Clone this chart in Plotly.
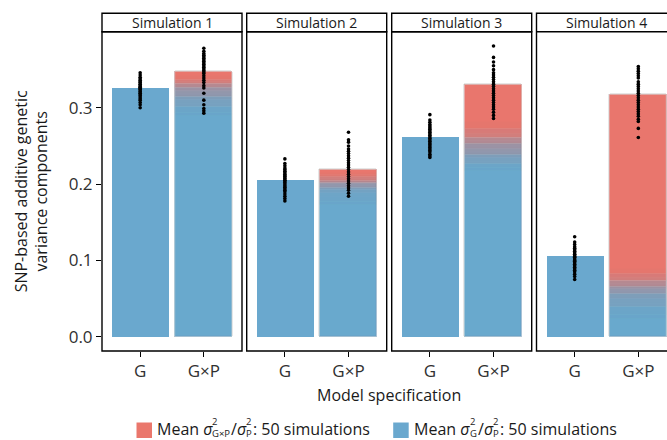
import plotly.graph_objects as go

W, H = 667, 440

# ---------------- data ----------------
panels = ["Simulation 1", "Simulation 2", "Simulation 3", "Simulation 4"]
categories = ["G", "G×P"]
y_ticks = [0.0, 0.1, 0.2, 0.3]
y_ticklabels = ["0.0", "0.1", "0.2", "0.3"]

# mean SNP-based G variance component, G model
g_mean = [0.326, 0.206, 0.262, 0.106]
# mean total (G + G×P) for the G×P model
gxp_total = [0.347, 0.2185, 0.330, 0.317]

# per-simulation G share (top of blue part) in the G×P model
gxp_gpart_1 = [0.327, 0.313, 0.339, 0.298, 0.330, 0.321, 0.308, 0.336, 0.317, 0.290,
               0.333, 0.325, 0.305, 0.341, 0.319, 0.328, 0.294, 0.334, 0.311, 0.323,
               0.302, 0.337, 0.315, 0.326, 0.331]
gxp_gpart_2 = [0.206, 0.191, 0.213, 0.180, 0.209, 0.200, 0.186, 0.211, 0.197, 0.173,
               0.208, 0.204, 0.183, 0.214, 0.198, 0.207, 0.177, 0.212, 0.189, 0.201,
               0.193, 0.210, 0.195, 0.205, 0.202]
gxp_gpart_3 = [0.255, 0.237, 0.276, 0.224, 0.259, 0.245, 0.233, 0.269, 0.241, 0.218,
               0.263, 0.250, 0.230, 0.280, 0.243, 0.257, 0.221, 0.266, 0.235, 0.247,
               0.227, 0.272, 0.239, 0.253, 0.261]
gxp_gpart_4 = [0.067, 0.053, 0.085, 0.034, 0.071, 0.062, 0.047, 0.079, 0.058, 0.024,
               0.075, 0.064, 0.043, 0.088, 0.060, 0.069, 0.029, 0.077, 0.050, 0.063,
               0.039, 0.082, 0.056, 0.066, 0.073]

# per-simulation estimates (points)
dots_g_1 = [0.346, 0.343, 0.340, 0.338, 0.336, 0.334, 0.333, 0.331, 0.330, 0.328, 0.327,
            0.326, 0.325, 0.324, 0.322, 0.321, 0.319, 0.318, 0.316, 0.314, 0.312, 0.310,
            0.307, 0.304, 0.300]
dots_gxp_1 = [0.378, 0.374, 0.371, 0.369, 0.367, 0.365, 0.363, 0.361, 0.359, 0.357, 0.355,
              0.353, 0.351, 0.349, 0.347, 0.345, 0.342, 0.339, 0.336, 0.333, 0.329, 0.326,
              0.319, 0.310, 0.304, 0.299, 0.296, 0.293]
dots_g_2 = [0.233, 0.227, 0.224, 0.221, 0.219, 0.217, 0.215, 0.213, 0.211, 0.210, 0.208,
            0.207, 0.205, 0.204, 0.202, 0.200, 0.198, 0.196, 0.194, 0.192, 0.190, 0.187,
            0.184, 0.181, 0.178]
dots_gxp_2 = [0.268, 0.258, 0.255, 0.250, 0.246, 0.243, 0.240, 0.237, 0.234, 0.231, 0.228,
              0.225, 0.222, 0.219, 0.216, 0.213, 0.210, 0.207, 0.204, 0.201, 0.198, 0.195,
              0.192, 0.188, 0.184]
dots_g_3 = [0.291, 0.284, 0.281, 0.278, 0.276, 0.274, 0.272, 0.270, 0.268, 0.266, 0.264,
            0.262, 0.260, 0.258, 0.256, 0.254, 0.252, 0.250, 0.248, 0.246, 0.244, 0.242,
            0.239, 0.237, 0.235]
dots_gxp_3 = [0.381, 0.366, 0.360, 0.355, 0.350, 0.346, 0.343, 0.340, 0.337, 0.334, 0.331,
              0.328, 0.325, 0.322, 0.319, 0.316, 0.313, 0.310, 0.307, 0.304, 0.301, 0.298,
              0.294, 0.290, 0.286]
dots_g_4 = [0.131, 0.124, 0.121, 0.118, 0.116, 0.114, 0.112, 0.110, 0.108, 0.107, 0.105,
            0.104, 0.102, 0.100, 0.099, 0.097, 0.095, 0.093, 0.091, 0.089, 0.087, 0.085,
            0.082, 0.079, 0.075]
dots_gxp_4 = [0.354, 0.351, 0.348, 0.345, 0.342, 0.339, 0.334, 0.331, 0.328, 0.325, 0.322,
              0.319, 0.316, 0.313, 0.310, 0.307, 0.304, 0.301, 0.298, 0.295, 0.292, 0.289,
              0.285, 0.282, 0.273, 0.261]

gxp_gparts = [gxp_gpart_1, gxp_gpart_2, gxp_gpart_3, gxp_gpart_4]
dots_g = [dots_g_1, dots_g_2, dots_g_3, dots_g_4]
dots_gxp = [dots_gxp_1, dots_gxp_2, dots_gxp_3, dots_gxp_4]

# legend: subscript of first sigma for each series
legend_subs = ["G×P", "G"]
legend_tail = ": 50 simulations"

# ---------------- styling ----------------
FONT = "Open Sans, sans-serif"
BLUE = "#6AA8CE"
RED = "#EA776C"
BLUE_A = "rgba(106,168,206,0.22)"
RED_A = "rgba(234,119,108,0.22)"
SEAM = "rgba(225,225,225,0.25)"
TXT = "#303030"
DARK = "#1a1a1a"


def X(px):
    return px / W


def Y(py):
    return 1 - py / H


panel_left = [102.0, 246.7, 391.7, 536.5]
panel_w = 140.0
plot_top, plot_bot = 31.7, 351.0
strip_top = 13.3
y_range = [-0.0187, 0.3997]
unit = panel_w / 2.2  # px per category

fig = go.Figure()

for p in range(4):
    ax = "" if p == 0 else str(p + 1)
    xa, ya = "x" + ax, "y" + ax
    # G model bar
    fig.add_trace(go.Bar(x=[categories[0]], y=[g_mean[p]], width=0.9,
                         marker=dict(color=BLUE, line=dict(width=0)),
                         xaxis=xa, yaxis=ya, hoverinfo="skip", showlegend=False))
    # G×P model: one translucent stacked bar per simulation
    for b in gxp_gparts[p]:
        fig.add_trace(go.Bar(x=[categories[1], categories[1]], y=[b, gxp_total[p] - b],
                             base=[0, b], width=0.9,
                             marker=dict(color=[BLUE_A, RED_A], line=dict(width=0.5, color=SEAM)),
                             xaxis=xa, yaxis=ya, hoverinfo="skip", showlegend=False))
    # points
    fig.add_trace(go.Scatter(x=[categories[0]] * len(dots_g[p]), y=dots_g[p], mode="markers",
                             marker=dict(color="black", size=3.6),
                             xaxis=xa, yaxis=ya, hoverinfo="skip", showlegend=False))
    fig.add_trace(go.Scatter(x=[categories[1]] * len(dots_gxp[p]), y=dots_gxp[p], mode="markers",
                             marker=dict(color="black", size=3.6),
                             xaxis=xa, yaxis=ya, hoverinfo="skip", showlegend=False))

    left = panel_left[p]
    right = min(left + panel_w, W)
    xr = [-0.6, 1.6] if p < 3 else [-0.6, -0.6 + (W - left) / unit]
    fig.update_layout(**{
        "xaxis" + ax: dict(domain=[X(left), X(right)], anchor=ya, type="category",
                           categoryorder="array", categoryarray=categories, range=xr,
                           showgrid=False, zeroline=False, showline=False,
                           ticks="outside", ticklen=5, tickwidth=1.2, tickcolor="black",
                           tickfont=dict(family=FONT, size=17, color=TXT)),
        "yaxis" + ax: dict(domain=[Y(plot_bot), Y(plot_top)], anchor=xa, range=y_range,
                           showgrid=False, zeroline=False, showline=False,
                           tickvals=y_ticks, ticktext=y_ticklabels,
                           showticklabels=(p == 0), ticks="outside" if p == 0 else "",
                           ticklen=5, tickwidth=1.2, tickcolor="black",
                           tickfont=dict(family=FONT, size=17, color=TXT)),
    })

    # panel border + strip
    lw = 1.4
    if p < 3:
        fig.add_shape(type="rect", xref="paper", yref="paper", x0=X(left), x1=X(right),
                      y0=Y(plot_bot), y1=Y(plot_top), line=dict(color="black", width=lw),
                      layer="above")
        fig.add_shape(type="rect", xref="paper", yref="paper", x0=X(left), x1=X(right),
                      y0=Y(plot_top), y1=Y(strip_top), line=dict(color="black", width=lw),
                      fillcolor="white", layer="above")
    else:
        xe = X(left + panel_w)
        path = (f"M {xe},{Y(strip_top)} L {X(left)},{Y(strip_top)} L {X(left)},{Y(plot_bot)} "
                f"L {xe},{Y(plot_bot)} M {X(left)},{Y(plot_top)} L {xe},{Y(plot_top)}")
        fig.add_shape(type="path", xref="paper", yref="paper", path=path,
                      line=dict(color="black", width=lw), layer="above")
    fig.add_annotation(x=X(left + panel_w / 2), y=Y(22.3), xref="paper", yref="paper",
                       text=panels[p], showarrow=False, xanchor="center", yanchor="middle",
                       font=dict(family=FONT, size=14, color=DARK))

# axis titles
fig.add_annotation(x=X(389), y=Y(395), xref="paper", yref="paper", text="Model specification",
                   showarrow=False, xanchor="center", yanchor="middle",
                   font=dict(family=FONT, size=16, color=DARK))
fig.add_annotation(x=X(31), y=Y((plot_top + plot_bot) / 2), xref="paper", yref="paper",
                   text="SNP-based additive genetic<br>variance components", textangle=-90,
                   showarrow=False, xanchor="center", yanchor="middle",
                   font=dict(family=FONT, size=16, color=DARK))


# legend (drawn manually so super/subscripts stack like the original)
def txt(x, y, s, size):
    fig.add_annotation(x=X(x), y=Y(y), xref="paper", yref="paper", text=s, showarrow=False,
                       xanchor="left", yanchor="middle", align="left",
                       borderpad=0, borderwidth=0,
                       font=dict(family=FONT, size=size, color=DARK))


def legend_item(x0, color, sub1, sub_w, x_text):
    fig.add_shape(type="rect", xref="paper", yref="paper", x0=X(x0), x1=X(x0 + 15.5),
                  y0=Y(438.0), y1=Y(422.5), fillcolor=color, line=dict(width=0))
    cy = 429.3
    txt(x_text, cy, "Mean <i>σ</i>", 16)
    xs = x_text + 56.0
    txt(xs, cy - 1.8, "2<br>" + sub1, 9.5)
    xs += sub_w
    txt(xs, cy, "/<i>σ</i>", 16)
    xs += 15.2
    txt(xs, cy - 1.8, "2<br>P", 9.5)
    xs += 7.0
    txt(xs, cy, legend_tail, 16)


legend_item(136.5, RED, legend_subs[0], 18.6, 156.5)
legend_item(393.2, BLUE, legend_subs[1], 7.6, 414.0)

fig.update_layout(width=W, height=H, autosize=False, margin=dict(l=0, r=0, t=0, b=0),
                  barmode="overlay", bargap=0, showlegend=False,
                  plot_bgcolor="white", paper_bgcolor="white",
                  font=dict(family=FONT, color=TXT))

fig.write_html("out.html", config={"displayModeBar": False})
